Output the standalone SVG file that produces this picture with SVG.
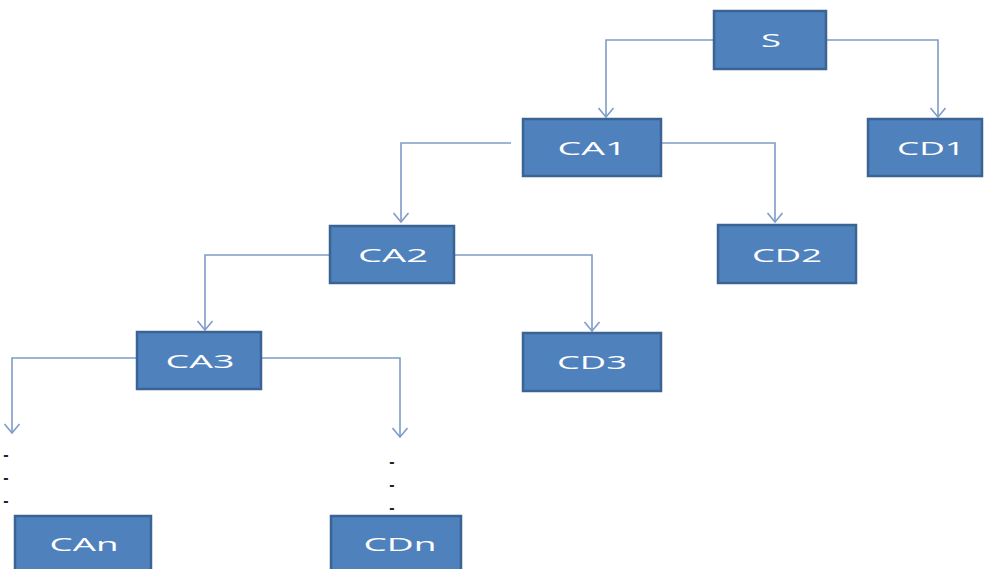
<svg xmlns="http://www.w3.org/2000/svg" width="984" height="569" viewBox="0 0 984 569">
<defs>
<marker id="arr" markerWidth="12" markerHeight="18" refX="10" refY="9" orient="auto" markerUnits="userSpaceOnUse" viewBox="0 0 12 18">
<path d="M1,1.5 L10,9 L1,16.5" fill="none" stroke="#7f9cc8" stroke-width="1.6"/>
</marker>
</defs>
<style>
.box{fill:#4f81bd;stroke:#3a6494;stroke-width:2.5}
.lbl{fill:#ffffff;font-family:"Open Sans","Liberation Sans",sans-serif;font-size:19px;text-anchor:middle;dominant-baseline:central}
.ln{fill:none;stroke:#7f9cc8;stroke-width:1.6}
.dot{fill:#222;font-family:"Liberation Sans",sans-serif;font-size:16px;font-weight:bold;text-anchor:middle}
</style>
<rect width="984" height="569" fill="#ffffff"/>
<g id="connectors">
<path class="ln" d="M713,40 H606 V117" marker-end="url(#arr)"/>
<path class="ln" d="M827,40 H938 V117" marker-end="url(#arr)"/>
<path class="ln" d="M511,143 H401 V222" marker-end="url(#arr)"/>
<path class="ln" d="M662,143 H775 V222" marker-end="url(#arr)"/>
<path class="ln" d="M329,255 H205 V330" marker-end="url(#arr)"/>
<path class="ln" d="M455,255 H592 V331" marker-end="url(#arr)"/>
<path class="ln" d="M136,358 H12 V433" marker-end="url(#arr)"/>
<path class="ln" d="M262,358 H400 V437" marker-end="url(#arr)"/>
</g>
<g id="dots">
<text class="dot" x="6" y="460">-</text>
<text class="dot" x="6" y="483">-</text>
<text class="dot" x="6" y="506">-</text>
<text class="dot" x="392" y="467">-</text>
<text class="dot" x="392" y="490">-</text>
<text class="dot" x="392" y="513">-</text>
</g>
<g id="S"><rect class="box" x="714" y="11" width="112" height="58"/><text class="lbl" x="771" y="40" textLength="20" lengthAdjust="spacingAndGlyphs">S</text></g>
<g id="CA1"><rect class="box" x="523" y="119" width="138" height="57"/><text class="lbl" x="592" y="148" textLength="69" lengthAdjust="spacingAndGlyphs">CA1</text></g>
<g id="CD1"><rect class="box" x="868" y="119" width="114" height="57"/><text class="lbl" x="931" y="148" textLength="68" lengthAdjust="spacingAndGlyphs">CD1</text></g>
<g id="CA2"><rect class="box" x="330" y="226" width="124" height="57"/><text class="lbl" x="393" y="255" textLength="70" lengthAdjust="spacingAndGlyphs">CA2</text></g>
<g id="CD2"><rect class="box" x="718" y="225" width="138" height="58"/><text class="lbl" x="787" y="255" textLength="70" lengthAdjust="spacingAndGlyphs">CD2</text></g>
<g id="CA3"><rect class="box" x="137" y="332" width="124" height="57"/><text class="lbl" x="200" y="361" textLength="69" lengthAdjust="spacingAndGlyphs">CA3</text></g>
<g id="CD3"><rect class="box" x="523" y="333" width="138" height="58"/><text class="lbl" x="592" y="362" textLength="70" lengthAdjust="spacingAndGlyphs">CD3</text></g>
<g id="CAn"><rect class="box" x="15" y="516" width="136" height="60"/><text class="lbl" x="84" y="544" textLength="69" lengthAdjust="spacingAndGlyphs">CAn</text></g>
<g id="CDn"><rect class="box" x="331" y="516" width="130" height="60"/><text class="lbl" x="400" y="544" textLength="73" lengthAdjust="spacingAndGlyphs">CDn</text></g>
</svg>
